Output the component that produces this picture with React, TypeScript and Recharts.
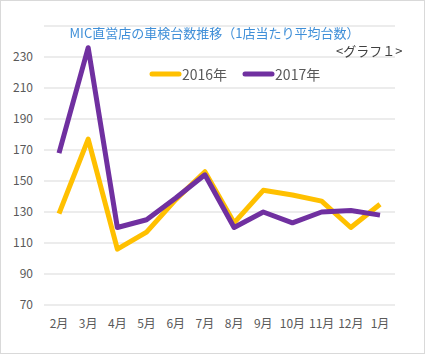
import React from 'react';
import { LineChart, Line, XAxis, YAxis, CartesianGrid } from 'recharts';

const months = ['2月', '3月', '4月', '5月', '6月', '7月', '8月', '9月', '10月', '11月', '12月', '1月'];
const y2016 = [129, 177, 106, 117, 138, 156, 123, 144, 141, 137, 120, 135];
const y2017 = [168, 236, 120, 125, 139, 154, 120, 130, 123, 130, 131, 128];
const yTicks = [70, 90, 110, 130, 150, 170, 190, 210, 230];

const series = [
  { key: 'a2016', name: '2016年', color: '#FFC000' },
  { key: 'a2017', name: '2017年', color: '#7030A0' },
];

const data = months.map((m, i) => ({ month: m, a2016: y2016[i], a2017: y2017[i] }));

const font = '"Noto Sans CJK JP", "Noto Sans", sans-serif';

export default function App() {
  return (
    <div
      style={{
        position: 'fixed',
        top: 0,
        left: 0,
        width: 425,
        height: 354,
        boxSizing: 'border-box',
        border: '1px solid #d9d9d9',
        background: '#fff',
        fontFamily: font,
      }}
    >
      <div style={{ position: 'absolute', top: -1, left: -1 }}>
        <LineChart width={425} height={354} data={data} margin={{ top: 26, right: 30, bottom: 19, left: 0 }}>
          <CartesianGrid vertical={false} stroke="#d9d9d9" strokeWidth={1} />
          <XAxis
            dataKey="month"
            axisLine={false}
            tickLine={false}
            height={30}
            tickMargin={8}
            padding={{ left: 15, right: 15 }}
            tick={{ fill: '#595959', fontSize: 12, fontFamily: font }}
          />
          <YAxis
            domain={[70, 250]}
            ticks={yTicks}
            axisLine={false}
            tickLine={false}
            width={44}
            tickMargin={5}
            tick={{ fill: '#595959', fontSize: 12, fontFamily: font }}
          />
          {series.map((s) => (
            <Line
              key={s.key}
              name={s.name}
              dataKey={s.key}
              stroke={s.color}
              strokeWidth={5}
              dot={false}
              strokeLinejoin="round"
              isAnimationActive={false}
            />
          ))}
        </LineChart>
      </div>
      <div style={{ position: 'absolute', top: 22, left: 2, width: 423, textAlign: 'center', fontSize: 13, color: '#3f8fd8' }}>
        MIC直営店の車検台数推移（1店当たり平均台数）
      </div>
      <div style={{ position: 'absolute', top: 40, left: 335, fontSize: 13, color: '#404040' }}>
        &lt;グラフ１&gt;
      </div>
      <div
        style={{
          position: 'absolute',
          top: 63,
          left: 147,
          display: 'flex',
          gap: 14,
          fontSize: 14,
          color: '#595959',
        }}
      >
        {series.map((s) => (
          <div key={s.key} style={{ display: 'flex', alignItems: 'center' }}>
            <svg width={34} height={10} style={{ marginRight: 0 }}>
              <line x1={4} y1={5} x2={31} y2={5} stroke={s.color} strokeWidth={5} strokeLinecap="round" />
            </svg>
            <span>{s.name}</span>
          </div>
        ))}
      </div>
    </div>
  );
}
